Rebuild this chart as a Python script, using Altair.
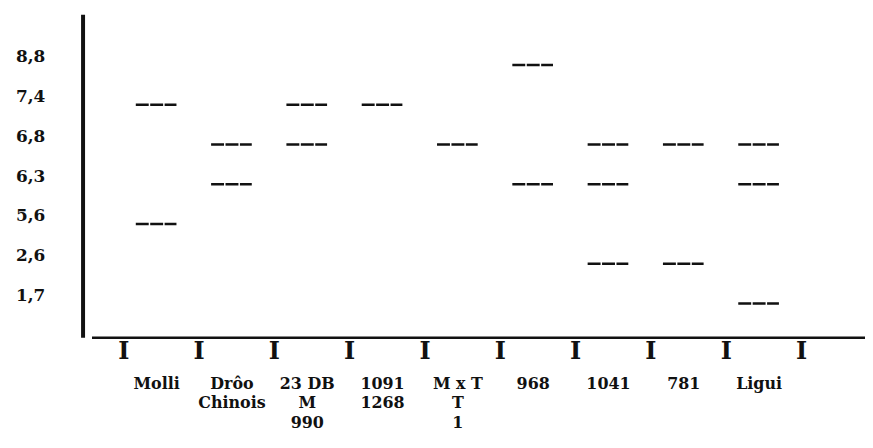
import json
import altair as alt
import pandas as pd

# ---- data ----
rows = ["8,8", "7,4", "6,8", "6,3", "5,6", "2,6", "1,7"]
lane_labels = [
    ["Molli"],
    ["Drôo", "Chinois"],
    ["23 DB", "M", "990"],
    ["1091", "1268"],
    ["M x T", "T", "1"],
    ["968"],
    ["1041"],
    ["781"],
    ["Ligui"],
]
band_lane = [0, 0, 1, 1, 2, 2, 3, 4, 5, 5, 6, 6, 6, 7, 7, 8, 8, 8]
band_row = ["7,4", "5,6", "6,8", "6,3", "7,4", "6,8", "7,4", "6,8",
            "8,8", "6,3", "6,8", "6,3", "2,6", "6,8", "2,6", "6,8", "6,3", "1,7"]
separators = [0, 1, 2, 3, 4, 5, 6, 7, 8, 9]

bands = pd.DataFrame({
    "lane": band_lane,
    "row": [rows.index(r) for r in band_row],
    "label": band_row,
})
seps = pd.DataFrame({"k": separators})

FONT = "DejaVu Serif"
INK = "#111111"
W, H = 778, 325

xscale = alt.Scale(domain=[-0.858, 9.413], nice=False, zero=False)
yscale = alt.Scale(domain=[-1.275, 6.85], nice=False, zero=False, reverse=True)

x_label_expr = json.dumps(lane_labels, ensure_ascii=False) + "[round(datum.value)]"
y_label_expr = json.dumps(rows, ensure_ascii=False) + "[round(datum.value)]"

band_layer = alt.Chart(bands).transform_calculate(
    x0="datum.lane - 0.27", x1="datum.lane + 0.27"
).mark_rule(strokeWidth=2.5, color=INK, strokeDash=[13, 1.5]).encode(
    x=alt.X("x0:Q", scale=xscale, title=None,
            axis=alt.Axis(values=list(range(len(lane_labels))), labelExpr=x_label_expr,
                          grid=False, ticks=False, tickSize=0, domainWidth=2.5,
                          domainColor=INK, labelColor=INK, labelFont=FONT,
                          labelFontSize=16, labelFontWeight="bold", labelPadding=38,
                          labelLineHeight=20, labelAngle=0, labelOverlap=False,
                          labelFlush=False, labelBaseline="top")),
    x2="x1:Q",
    y=alt.Y("row:Q", scale=yscale, title=None,
            axis=alt.Axis(values=list(range(len(rows))), labelExpr=y_label_expr,
                          grid=False, ticks=False, tickSize=0, domainWidth=4,
                          domainColor=INK, labelColor=INK, labelFont=FONT,
                          labelFontSize=17, labelFontWeight="bold", labelPadding=38,
                          labelOffset=-8, offset=9, labelOverlap=False,
                          labelFlush=False)),
)

sep_layer = alt.Chart(seps).transform_calculate(
    xs="datum.k - 0.43", t="'I'"
).mark_text(font=FONT, fontSize=24, fontWeight="bold", color=INK,
            baseline="middle", align="center").encode(
    x=alt.X("xs:Q", scale=xscale),
    y=alt.value(H + 15),
    text="t:N",
)

chart = alt.layer(band_layer, sep_layer).properties(
    width=W, height=H,
    autosize=alt.AutoSizeParams(type="none"),
    padding={"left": 84, "top": 5, "right": 0, "bottom": 95},
    background="white",
).configure_view(stroke=None)

chart.save("out.html", embed_options={"renderer": "svg", "actions": False})
